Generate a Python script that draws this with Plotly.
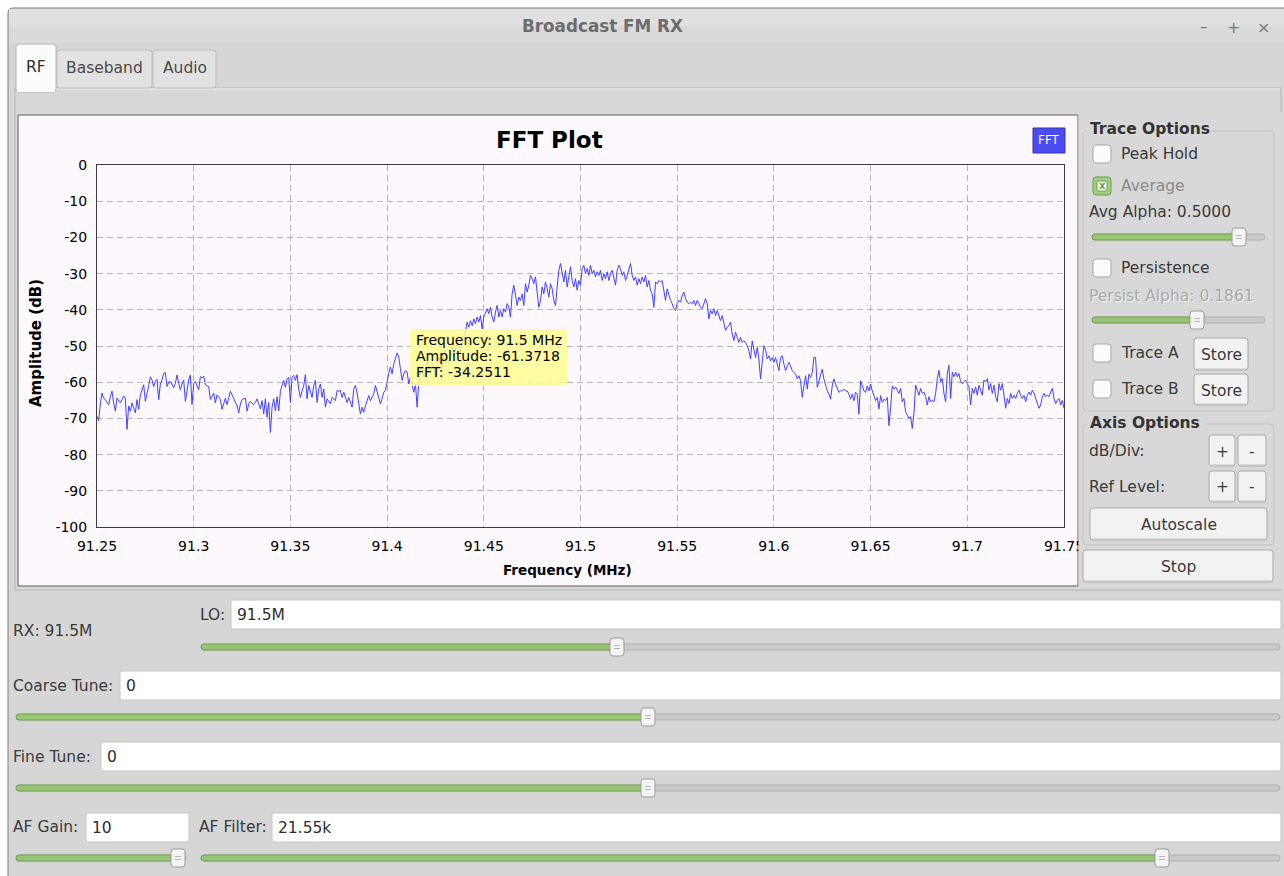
import numpy as np
import plotly.graph_objects as go

W, H = 1284, 876

# ---------------- data ----------------
F_START, F_STOP = 91.25, 91.75

amp_part1 = [-69.4, -70.7, -66.0, -63.0, -64.4, -64.8, -65.5, -66.2, -64.0, -62.5,
             -65.7, -68.0, -64.4, -65.0, -65.7, -64.8, -63.8, -64.4, -73.0, -66.6,
             -68.0, -65.7, -67.0, -68.5, -64.8, -67.5, -63.5, -62.1, -60.7, -65.3,
             -63.5, -61.0, -58.5, -59.4, -61.2, -59.8, -59.2, -64.8, -60.5, -59.4,
             -57.5, -57.4, -61.2, -60.0, -59.8, -60.7, -61.5, -60.3, -58.0, -60.3,
             -62.1, -60.5, -59.4, -65.3, -62.0, -59.4, -58.0, -66.2, -60.3, -59.8,
             -61.0, -62.1, -58.5, -58.8, -58.3, -60.7, -61.0, -61.2, -64.8, -63.8,
             -63.0, -65.7, -63.5, -64.0, -64.8, -67.5, -65.5, -64.4, -66.2, -64.0,
             -62.5, -63.5, -64.4, -65.3, -66.5, -68.5, -66.0, -64.8, -64.6, -64.4,
             -68.0, -66.0, -65.3, -65.8, -66.2]
amp_part2 = [-65.6, -64.6, -66.0, -67.4, -65.1, -68.8, -64.6, -69.7, -65.6, -73.9,
             -66.9, -64.6, -67.9, -64.0, -67.9, -62.5, -60.9, -59.5, -61.4, -59.1,
             -58.6, -65.6, -58.6, -58.1, -59.5, -57.9, -61.9, -64.2, -62.5, -60.9,
             -57.9, -64.6, -60.9, -62.3, -64.2, -61.0, -59.5, -65.6, -61.9, -60.5,
             -64.2, -61.9, -66.9, -64.6, -65.5, -66.0, -64.2, -64.8, -65.1, -62.3,
             -62.5, -62.3, -64.2, -62.8, -64.5, -65.6, -64.2, -65.5, -66.9, -61.9,
             -60.9, -63.0, -65.6, -68.8, -66.9, -68.3, -66.5, -65.1, -63.7, -65.1,
             -64.0, -63.2, -60.9, -62.8, -64.2, -66.0, -64.5, -62.8, -62.3, -59.5,
             -57.5, -55.8, -57.7, -54.9, -53.5, -51.9, -53.1, -55.8, -59.5, -57.7,
             -56.8, -57.2, -60.5, -58.6, -61.0, -62.8, -60.5, -66.9]
amp_part3 = [-60.1, -57.0, -56.0, -58.5, -57.0, -54.0, -56.0, -57.5, -55.0, -55.5,
             -59.0, -57.0, -53.0, -54.5, -56.0, -52.5, -51.0, -54.0, -55.0, -51.5,
             -50.0, -53.0, -51.0, -49.0, -50.5, -52.0, -49.0, -47.5, -46.0]
amp_part4 = [-43.4, -44.8, -43.0, -44.4, -42.5, -43.9, -42.0, -43.4, -41.6, -45.3,
             -42.0, -40.6, -39.7, -41.1, -39.3, -42.0, -43.4, -40.6, -38.8, -42.0,
             -40.2, -42.0, -39.7, -40.6, -38.3, -39.3, -42.0, -35.6, -33.2, -36.0,
             -38.8, -36.5, -37.4, -35.6, -38.8, -32.8, -35.1, -33.2, -30.5, -31.4,
             -32.8, -30.9, -36.0, -39.3, -37.4, -33.7, -35.6, -32.3, -34.2, -36.5,
             -32.8, -34.2, -37.4, -38.8, -33.7, -29.1, -27.2, -30.0, -32.3, -29.1,
             -33.7, -30.9, -28.1, -31.9, -33.7]
amp_part5 = [-31.4, -34.6, -31.9, -33.2, -28.6, -27.7, -30.0, -28.6, -30.5, -27.7,
             -30.0, -29.1, -30.9, -29.5, -30.5, -29.1, -31.9, -30.0, -31.4, -29.5,
             -31.9, -30.0, -29.1, -30.9, -33.2, -29.1, -27.7, -28.6, -30.5, -29.5,
             -31.9, -30.5, -28.6, -27.2, -30.5, -31.9, -30.9, -33.2, -31.4, -32.8,
             -30.9, -32.3, -30.5, -33.7, -31.9, -34.6, -35.6, -39.3, -32.3, -32.8,
             -31.9, -32.3, -31.9, -34.2, -37.4, -34.2, -36.0, -37.4, -38.3, -39.7,
             -40.2, -38.3, -37.4, -37.9, -36.0, -35.1, -36.9, -37.9, -38.3, -37.9,
             -38.3, -37.4, -38.8, -37.4, -38.3, -39.3, -39.7, -37.9, -36.9, -38.3,
             -42.5, -40.2, -41.1, -39.7, -41.6, -40.2, -42.0, -43.0, -41.6, -43.9,
             -45.7, -44.8, -44.4, -43.4, -46.7, -48.5, -46.2, -47.6, -49.0]
amp_part6 = [-47.6, -49.0, -48.6, -49.0, -49.9, -51.3, -53.6, -48.6, -50.9, -53.2,
             -50.4, -53.6, -59.1, -54.1, -49.9, -50.9, -53.6, -52.7, -54.1, -53.2,
             -54.5, -53.2, -55.0, -56.8, -53.2, -52.7, -55.0, -56.8, -55.5, -54.5,
             -55.5, -56.8, -57.3, -57.8, -59.1, -58.2, -59.6, -64.2, -61.0, -58.2,
             -61.9, -57.8, -58.7, -57.3, -53.2, -53.2, -61.4, -59.6, -57.8, -56.4,
             -59.1, -61.0, -62.4, -63.3, -64.7, -61.0, -59.1, -60.5, -61.9, -62.8,
             -62.4, -62.4, -61.9, -62.4, -62.4, -63.3, -64.7, -63.3, -65.1, -62.8,
             -63.3, -68.8, -59.6, -61.0, -62.4, -62.8, -61.0, -62.4, -60.5, -62.4,
             -63.7, -65.1, -64.2, -67.4, -63.7, -65.6, -64.7, -65.1, -64.2, -72.0,
             -67.0, -61.0, -61.9]
amp_part7 = [-61.3, -62.2, -63.1, -61.7, -65.4, -64.5, -68.2, -69.1, -70.0, -69.5,
             -72.8, -68.6, -60.8, -62.2, -63.6, -61.7, -63.1, -62.7, -64.0, -66.3,
             -64.0, -65.4, -65.0, -65.4, -63.1, -59.0, -56.7, -59.9, -59.0, -63.1,
             -65.4, -57.6, -55.3, -64.5, -57.2, -58.5, -57.2, -58.5, -57.6, -59.9,
             -60.4, -59.9, -59.4, -60.4, -61.3, -66.3, -61.7, -63.1, -61.3, -63.6,
             -60.8, -62.2, -63.6, -59.4, -59.9, -59.0, -62.2, -60.4, -63.1, -60.8,
             -64.0, -65.4, -60.4, -62.2, -60.4, -63.6, -67.2, -64.5, -65.9, -63.1,
             -64.5, -63.6, -64.5, -63.1, -62.2, -63.6, -64.5, -63.6, -65.4, -63.6,
             -62.7, -63.6, -62.2, -63.1, -64.5, -65.4, -67.2, -66.3, -64.0, -63.1,
             -64.0, -63.6, -64.0, -62.7, -61.7, -64.5, -65.9, -65.0, -64.5, -66.3,
             -65.0, -67.2]

amplitude_db = (amp_part1 + amp_part2 + amp_part3 + amp_part4 +
                amp_part5 + amp_part6 + amp_part7)
freq_mhz = np.linspace(F_START, F_STOP, len(amplitude_db))  # uniform FFT bins

x_tick_vals = [91.25, 91.30, 91.35, 91.40, 91.45, 91.50, 91.55, 91.60, 91.65, 91.70, 91.75]
x_tick_text = ["91.25", "91.3", "91.35", "91.4", "91.45", "91.5", "91.55",
               "91.6", "91.65", "91.7", "91.75"]
y_tick_vals = [0, -10, -20, -30, -40, -50, -60, -70, -80, -90, -100]
y_tick_text = ["0", "-10", "-20", "-30", "-40", "-50", "-60", "-70", "-80", "-90", "-100"]

tooltip_lines = ["Frequency: 91.5 MHz", "Amplitude: -61.3718", "FFT: -34.2511"]

# ---------------- styling ----------------
UI_FONT = "DejaVu Sans"
PLOT_FONT = "DejaVu Sans"
WIN_BG = "#d6d6d6"
PANE_BG = "#d8d8d8"
PLOT_BG = "#fdf8fd"
TXT = "#3a3a3a"
UI_SIZE = 15.5


def px(x):  # screen x -> paper
    return x / W


def py(y):  # screen y -> paper
    return 1 - y / H


shapes = []
annotations = []


def rect(x0, y0, x1, y1, fill, line=None, lw=1, layer="above"):
    shapes.append(dict(type="rect", xref="paper", yref="paper",
                       x0=px(x0), x1=px(x1), y0=py(y1), y1=py(y0),
                       fillcolor=fill,
                       line=dict(color=line if line else fill, width=lw if line else 0),
                       layer=layer))


def rrect(x0, y0, x1, y1, r, fill, line=None, lw=1, layer="above"):
    def P(x, y):
        return f"{px(x):.6f},{py(y):.6f}"
    path = (f"M {P(x0 + r, y0)} L {P(x1 - r, y0)} Q {P(x1, y0)} {P(x1, y0 + r)} "
            f"L {P(x1, y1 - r)} Q {P(x1, y1)} {P(x1 - r, y1)} "
            f"L {P(x0 + r, y1)} Q {P(x0, y1)} {P(x0, y1 - r)} "
            f"L {P(x0, y0 + r)} Q {P(x0, y0)} {P(x0 + r, y0)} Z")
    shapes.append(dict(type="path", xref="paper", yref="paper", path=path,
                       fillcolor=fill,
                       line=dict(color=line if line else fill, width=lw if line else 0),
                       layer=layer))


def hline(x0, x1, y, color, lw=1, layer="above"):
    shapes.append(dict(type="line", xref="paper", yref="paper",
                       x0=px(x0), x1=px(x1), y0=py(y), y1=py(y),
                       line=dict(color=color, width=lw), layer=layer))


def text(x, y, s, size=UI_SIZE, color=TXT, anchor="left", family=UI_FONT, bold=False, angle=0):
    annotations.append(dict(xref="paper", yref="paper", x=px(x), y=py(y),
                            text=f"<b>{s}</b>" if bold else s, showarrow=False,
                            xanchor=anchor, yanchor="middle", textangle=angle,
                            borderpad=0, font=dict(family=family, size=size, color=color)))


def checkbox(x, y):
    rrect(x, y, x + 18, y + 18, 3, "#fbfbfb", "#a6a6a6")


def button(x0, y0, x1, y1, label):
    rrect(x0, y0, x1, y1, 3, "#f2f2f2", "#a8a8a8")
    hline(x0 + 2, x1 - 2, y1 - 1, "#c4c4c4")
    text((x0 + x1) / 2, (y0 + y1) / 2 + 1, label, anchor="center")


def field(x0, y0, x1, y1, value):
    rrect(x0, y0, x1, y1, 2, "#ffffff", "#c6c6c6")
    text(x0 + 5, (y0 + y1) / 2, value, color="#2e2e2e")


def slider(x0, x1, y, pos):
    rrect(x0, y - 3, x1, y + 3, 3, "#cacaca", "#b0b0b0")
    rrect(x0, y - 3, pos, y + 3, 3, "#97c574", "#72a152")
    rrect(pos - 7, y - 9, pos + 7, y + 9, 3, "#f5f5f5", "#9c9c9c")
    hline(pos - 3, pos + 3, y - 1.5, "#b5b5b5")
    hline(pos - 3, pos + 3, y + 1.5, "#b5b5b5")


# ---------------- window chrome (below the plot) ----------------
rrect(8, 8, 1300, 900, 5, WIN_BG, "#7d7d7d", layer="below")
rect(9, 9, 1290, 26, "#e0e0e0", layer="below")
rect(9, 26, 1290, 43, "#dadada", layer="below")
# tab pane
rect(15, 88, 1281, 590, PANE_BG, "#b5b5b5", layer="below")
hline(16, 1280, 89, "#f4f4f4", layer="below")
# plot widget
rect(18, 115, 1078, 586, PLOT_BG, "#5c5c5c", layer="below")

# ---------------- plot ----------------
fig = go.Figure(go.Scatter(x=freq_mhz, y=amplitude_db, mode="lines",
                           line=dict(color="#4242ff", width=1),
                           hoverinfo="skip", showlegend=False))

# tabs
rrect(16, 44, 56, 92, 3, "#fbfbfb", "#b5b5b5")
rect(17, 86, 55, 92, "#fbfbfb")
rrect(57, 50, 152, 88, 3, "#e2e2e2", "#bdbdbd")
rrect(153, 50, 216, 88, 3, "#e2e2e2", "#bdbdbd")
text(36, 67, "RF", anchor="center", color="#2e2e2e")
text(104.5, 68, "Baseband", anchor="center", color="#4a4a4a")
text(184.5, 68, "Audio", anchor="center", color="#4a4a4a")

# title bar
text(602, 26, "Broadcast FM RX", size=16.8, color="#6c6c6c", anchor="center", bold=True)
text(1204, 27, "–", size=15, color="#7a7a7a", anchor="center")
text(1233, 27, "+", size=16, color="#7a7a7a", anchor="center")
text(1263, 27, "×", size=16, color="#7a7a7a", anchor="center")

# plot titles / legend
text(549, 140, "FFT Plot", size=23, color="#000000", anchor="center", family=PLOT_FONT, bold=True)
text(36, 343, "Amplitude (dB)", size=15, color="#000000", anchor="center",
     family=PLOT_FONT, bold=True, angle=-90)
text(567, 570, "Frequency (MHz)", size=13.5, color="#000000", anchor="center",
     family=PLOT_FONT, bold=True)
rect(1033, 128, 1065, 153, "#4b4bf2", "#3535a0")
text(1049, 140.5, "FFT", size=12, color="#ffffff", anchor="center", family=PLOT_FONT)

# tooltip
rect(410, 329, 567, 386, "rgba(255,252,140,0.82)")
for k, line_txt in enumerate(tooltip_lines):
    text(415, 340 + 16 * k, line_txt, size=14, color="#000000", family=PLOT_FONT)

# ---------------- right panel ----------------
rect(1078.5, 112, 1290, 589, PANE_BG)
rrect(1083, 131, 1274, 411, 4, PANE_BG, "#c2c2c2")
rect(1087, 121, 1212, 138, PANE_BG)
text(1089, 129, "Trace Options", size=15.5, bold=True, color="#333333")

checkbox(1093, 145)
text(1120, 154, "Peak Hold")
rrect(1093, 177, 1111, 195, 3, "#9fcf7f", "#6e9e53")
rrect(1097, 181, 1107, 191, 1, "#f4faee", "#6e9e53")
text(1102, 186, "<b>x</b>", size=10, color="#6e9e53", anchor="center")
text(1120, 186, "Average", color="#8a8a8a")
text(1088, 212, "Avg Alpha: 0.5000")
slider(1092, 1265, 237, 1239)
checkbox(1093, 259)
text(1120, 268, "Persistence")
text(1089, 297, "Persist Alpha: 0.1861", color="#f2f2f2")
text(1088, 296, "Persist Alpha: 0.1861", color="#a9a9a9")
slider(1092, 1265, 320, 1197)
checkbox(1093, 344)
text(1120, 353, "Trace A")
button(1194, 338, 1248, 370, "Store")
checkbox(1093, 380)
text(1120, 389, "Trace B")
button(1194, 374, 1248, 405, "Store")

rrect(1083, 424, 1274, 545, 4, PANE_BG, "#c2c2c2")
rect(1087, 414, 1205, 432, PANE_BG)
text(1089, 423, "Axis Options", size=15.5, bold=True, color="#333333")
text(1088, 451, "dB/Div:")
button(1209, 435, 1235, 466, "+")
button(1238, 435, 1266, 466, "-")
text(1088, 487, "Ref Level:")
button(1209, 471, 1235, 502, "+")
button(1238, 471, 1266, 502, "-")
button(1090, 508, 1267, 540, "Autoscale")
button(1083, 550, 1273, 582, "Stop")

# ---------------- bottom controls ----------------
text(12, 631, "RX: 91.5M")
text(199, 615, "LO:")
field(231, 600, 1281, 629, "91.5M")
slider(201, 1280, 647, 617)
text(12, 686, "Coarse Tune:")
field(120, 671, 1281, 700, "0")
slider(16, 1280, 717, 648)
text(12, 757, "Fine Tune:")
field(101, 742, 1281, 771, "0")
slider(16, 1280, 788, 648)
text(12, 827, "AF Gain:")
field(86, 813, 189, 842, "10")
text(198, 827, "AF Filter:")
field(272, 813, 1281, 842, "21.55k")
slider(16, 186, 858, 178)
slider(201, 1280, 858, 1162)

axis_common = dict(showgrid=True, gridcolor="#b5b5b5", gridwidth=1, griddash="6px,4px",
                   showline=True, mirror=True, linecolor="#3c3c3c", linewidth=1,
                   zeroline=False, ticks="", fixedrange=True, automargin=False,
                   tickfont=dict(family=PLOT_FONT, size=14, color="#000000"))

fig.update_layout(
    width=W, height=H, autosize=False,
    margin=dict(l=0, r=0, t=0, b=0, pad=0, autoexpand=False),
    paper_bgcolor="#ffffff", plot_bgcolor=PLOT_BG,
    xaxis=dict(domain=[px(97), px(1064)], range=[F_START, F_STOP],
               tickvals=x_tick_vals, ticktext=x_tick_text, ticklabelstandoff=6,
               **axis_common),
    yaxis=dict(domain=[py(527), py(165)], range=[-100, 0],
               tickvals=y_tick_vals, ticktext=y_tick_text, ticklabelstandoff=6,
               **axis_common),
    shapes=shapes, annotations=annotations, showlegend=False,
)

fig.write_html("out.html", config={"displayModeBar": False, "responsive": False},
               post_script="document.body.style.margin='0px';document.body.style.overflow='hidden';")
